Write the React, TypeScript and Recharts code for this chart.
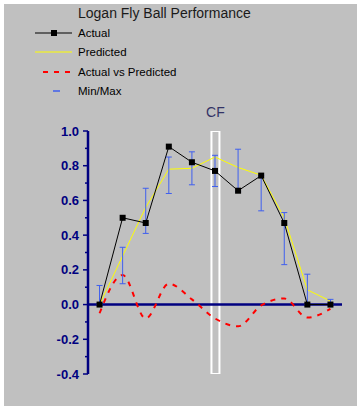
import React from "react";
import {
  ComposedChart,
  Line,
  Bar,
  XAxis,
  YAxis,
  ErrorBar,
  ReferenceLine,
  LabelList,
} from "recharts";

const NAVY = "#000080";
const FONT = '"Liberation Sans", Arial, sans-serif';

// one slot per fly ball zone, CF is the 6th
const slots = ["1", "2", "3", "4", "5", "6", "7", "8", "9", "10", "11"];
const actual = [0.0, 0.5, 0.47, 0.91, 0.82, 0.77, 0.656, 0.743, 0.47, 0.0, 0.0];
const predicted = [0.0, 0.28, 0.56, 0.78, 0.785, 0.85, 0.79, 0.745, 0.5, 0.085, 0.02];
const diff = [-0.05, 0.17, -0.08, 0.12, 0.03, -0.08, -0.125, -0.005, 0.035, -0.075, -0.025];
const minVals = [0.0, 0.12, 0.41, 0.64, 0.69, 0.68, 0.65, 0.54, 0.23, 0.0, 0.0];
const maxVals = [0.11, 0.33, 0.67, 0.85, 0.88, 0.86, 0.895, 0.745, 0.53, 0.175, 0.03];
const cfSlot = "6";
const cfRange = [-0.4, 1.0];
const yTicks = [-0.4, -0.3, -0.2, -0.1, 0, 0.1, 0.2, 0.3, 0.4, 0.5, 0.6, 0.7, 0.8, 0.9, 1.0];

const data = slots.map((s, i) => ({
  name: s,
  actual: actual[i],
  predicted: predicted[i],
  diff: diff[i],
  err: [actual[i] - minVals[i], maxVals[i] - actual[i]],
  cf: s === cfSlot ? cfRange : null,
  cfLabel: s === cfSlot ? "CF" : "",
}));

function YTick(props: any) {
  const { x, y, payload } = props;
  const v = payload.value;
  const major = Math.round(v * 10) % 2 === 0;
  return (
    <g>
      <line x1={x} x2={x - (major ? 5 : 3)} y1={y} y2={y} stroke={NAVY} strokeWidth={1.5} />
      {major && (
        <text
          x={x - 9}
          y={y}
          dy={4.5}
          textAnchor="end"
          fill={NAVY}
          fontWeight="bold"
          fontSize={13}
          fontFamily={FONT}
        >
          {v.toFixed(1)}
        </text>
      )}
    </g>
  );
}

function SquareDot(props: any) {
  const { cx, cy } = props;
  if (cx == null || cy == null) return null;
  return <rect x={cx - 3} y={cy - 3} width={6} height={6} fill="#000" />;
}

const legendItems = [
  {
    label: "Actual",
    icon: (
      <>
        <line x1={0} x2={37} y1={7} y2={7} stroke="#000" strokeWidth={1} />
        <rect x={16} y={4} width={6} height={6} fill="#000" />
      </>
    ),
  },
  {
    label: "Predicted",
    icon: <line x1={0} x2={37} y1={7} y2={7} stroke="#ffff00" strokeWidth={1} />,
  },
  {
    label: "Actual vs Predicted",
    icon: (
      <line x1={8} x2={37} y1={7} y2={7} stroke="#ff0000" strokeWidth={2} strokeDasharray="5 6" />
    ),
  },
  {
    label: "Min/Max",
    icon: <line x1={18} x2={25} y1={7} y2={7} stroke="#3f5fee" strokeWidth={1.5} />,
  },
];

export default function App() {
  return (
    <div style={{ position: "relative", width: 362, height: 413, background: "#fff" }}>
      <style>{`body{margin:0}`}</style>
      <div
        style={{
          position: "absolute",
          left: 4,
          top: 4,
          width: 353,
          height: 402,
          background: "#c0c0c0",
        }}
      >
        <ComposedChart
          width={353}
          height={402}
          data={data}
          margin={{ top: 127, right: 15, bottom: 32, left: 44 }}
        >
          <XAxis dataKey="name" hide />
          <YAxis
            width={40}
            domain={[-0.4, 1.0]}
            ticks={yTicks}
            allowDataOverflow
            interval={0}
            tickSize={0}
            tickMargin={0}
            tickLine={false}
            axisLine={{ stroke: NAVY, strokeWidth: 2.5 }}
            tick={<YTick />}
          />
          <Bar
            dataKey="cf"
            barSize={8}
            fill="none"
            stroke="#ffffff"
            strokeWidth={2}
            isAnimationActive={false}
          >
            <LabelList
              dataKey="cfLabel"
              position="top"
              offset={14}
              fill="#333366"
              fontSize={14}
              fontFamily={FONT}
            />
          </Bar>
          <ReferenceLine y={0} stroke={NAVY} strokeWidth={2.5} />
          <Line
            dataKey="diff"
            type="monotone"
            stroke="#ff0000"
            strokeWidth={2}
            strokeDasharray="5 6"
            dot={false}
            isAnimationActive={false}
          />
          <Line
            dataKey="predicted"
            type="linear"
            stroke="#ffff00"
            strokeWidth={1}
            dot={false}
            isAnimationActive={false}
          />
          <Line
            dataKey="actual"
            type="linear"
            stroke="#000"
            strokeWidth={1}
            dot={<SquareDot />}
            isAnimationActive={false}
          >
            <ErrorBar dataKey="err" direction="y" width={3} stroke="#3f5fee" strokeWidth={1} />
          </Line>
        </ComposedChart>
      </div>

      <div
        style={{
          position: "absolute",
          left: 78,
          top: 5,
          fontFamily: FONT,
          fontSize: 14,
          lineHeight: "16px",
          color: "#1a1a1a",
          whiteSpace: "nowrap",
        }}
      >
        Logan Fly Ball Performance
      </div>

      {legendItems.map((it, i) => (
        <div
          key={it.label}
          style={{
            position: "absolute",
            left: 35,
            top: 26 + i * 19.3,
            height: 14,
            display: "flex",
            alignItems: "center",
            fontFamily: FONT,
            fontSize: 11.5,
            color: "#000",
            whiteSpace: "nowrap",
          }}
        >
          <svg width={43} height={14} style={{ display: "block" }}>
            {it.icon}
          </svg>
          <span>{it.label}</span>
        </div>
      ))}
    </div>
  );
}
